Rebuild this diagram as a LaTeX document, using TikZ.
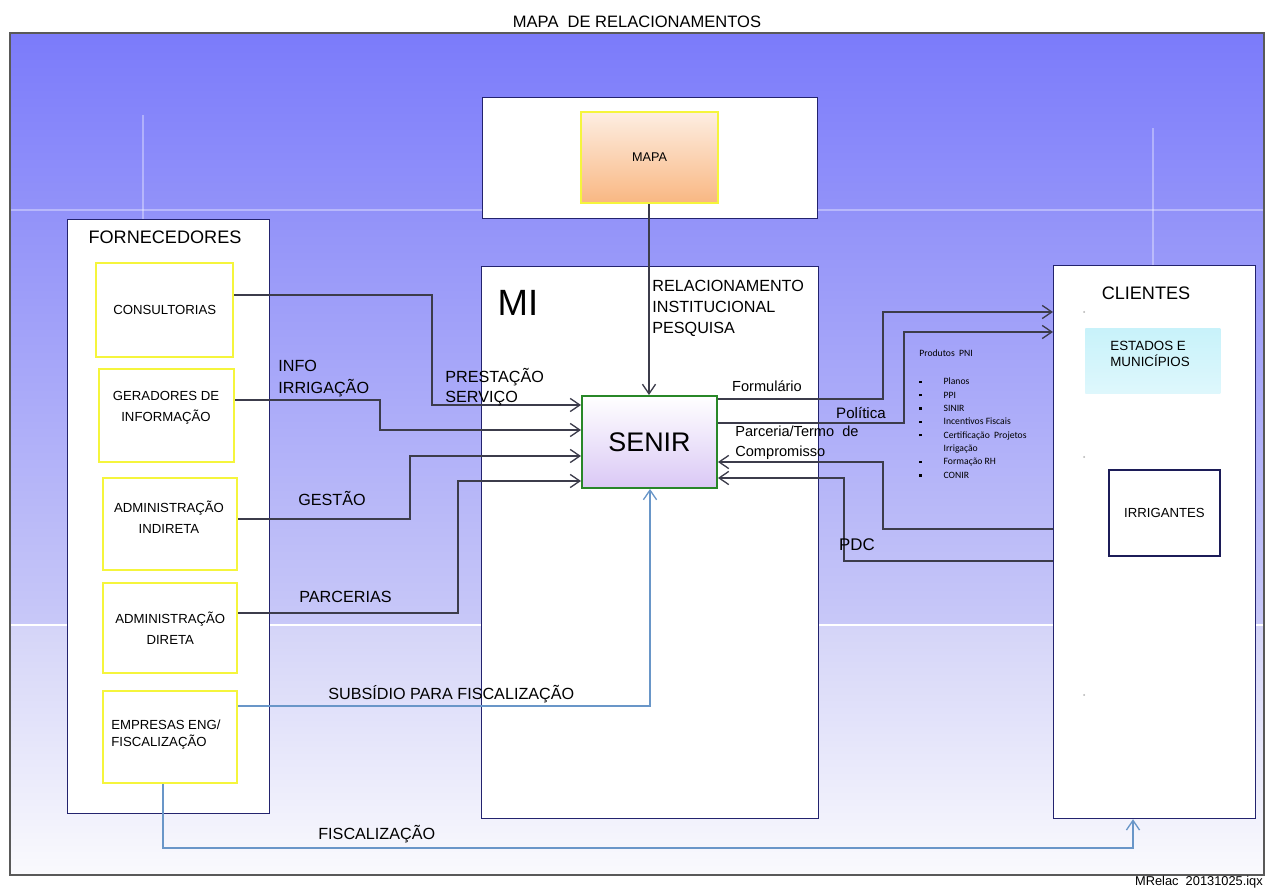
\documentclass[tikz,border=0pt]{standalone}
\usepackage{fontspec}
\setmainfont{Liberation Sans}
\newfontfamily\pnifont{Carlito}
\usepackage{tikz}
\usetikzlibrary{positioning,arrows.meta}

\definecolor{bgtop}{RGB}{123,123,250}
\definecolor{bgmid}{RGB}{200,200,248}
\definecolor{bglow}{RGB}{212,212,248}
\definecolor{bgend}{RGB}{250,250,253}
\definecolor{navy}{RGB}{35,35,110}
\definecolor{boxyellow}{RGB}{245,245,60}
\definecolor{senirgreen}{RGB}{40,135,40}
\definecolor{lavender}{RGB}{218,200,245}
\definecolor{peach}{RGB}{253,238,226}
\definecolor{mapaorange}{RGB}{249,183,130}
\definecolor{linegray}{RGB}{60,60,75}
\definecolor{lineblue}{RGB}{105,150,200}
\definecolor{cyanlight}{RGB}{200,242,250}

\newcommand{\pnibullet}{\raisebox{1pt}{\rule{1.3pt}{1.3pt}}}

\begin{document}
\begin{tikzpicture}[
        x=0.2mm, y=-0.2mm,
        grp/.style={draw=navy, fill=white, line width=0.7pt, anchor=north west, inner sep=0pt},
        ybox/.style={draw=boxyellow, fill=white, line width=1.4pt, anchor=north west, align=center, font=\fontsize{7.5}{12}\selectfont, inner sep=0pt, minimum width=26.8mm, minimum height=18.4mm},
        btxt/.style={align=center, font=\fontsize{7.5}{12}\selectfont, inner sep=0pt},
        lbl/.style={anchor=west, align=left, font=\fontsize{9.2}{12.5}\selectfont, inner sep=0pt},
        small/.style={lbl, font=\fontsize{8.3}{11.3}\selectfont},
        head/.style={font=\fontsize{10.3}{12}\selectfont, inner sep=0pt},
        arr/.style={draw=linegray, line width=0.75pt, -{Straight Barb[length=5.5pt, width=7.5pt]}},
        barr/.style={arr, draw=lineblue},
        dot/.style={circle, fill=gray!60, inner sep=0pt, minimum size=0.4mm},
    ]
        \useasboundingbox (0,0) rectangle (1274,892);
        \fill[white] (0,0) rectangle (1274,892);

        % background
        \shade[top color=bgtop, bottom color=bgmid] (10,33) rectangle (1264,625);
        \shade[top color=bglow, bottom color=bgend] (10,625) rectangle (1264,875);
        \draw[white, line width=1.5pt] (10,625) -- (1264,625);
        \draw[white, opacity=0.35, line width=0.8pt] (10,210) -- (1264,210);
        \draw[white, opacity=0.35, line width=0.8pt] (143,115) -- (143,219);
        \draw[white, opacity=0.35, line width=0.8pt] (1153,128) -- (1153,265);
        \draw[gray!70!black, line width=0.6pt] (10,33) rectangle (1264,875);

        \node[font=\fontsize{9.4}{11}\selectfont] (title) at (637,22) {MAPA\ \ DE RELACIONAMENTOS};
        \node[anchor=east, font=\fontsize{7.3}{9}\selectfont] (footer) at (1269,882) {MRelac\ \ 20131025.iqx};

        % containers
        \node[grp, minimum width=40.4mm, minimum height=118.8mm] (forn) at (67,219) {};
        \node[grp, minimum width=67.4mm, minimum height=110.4mm] (mi) at (481,266) {};
        \node[grp, minimum width=40.4mm, minimum height=110.6mm] (cli) at (1053,265) {};
        \node[grp, minimum width=67mm, minimum height=24.2mm] (mapabox) at (482,97) {};

        \node[head] (fornlbl) at (165,237) {FORNECEDORES};
        \node[head] (clilbl) at (1146,293) {CLIENTES};
        \node[font=\fontsize{20.8}{24}\selectfont, inner sep=0pt] (milbl) at (518,303) {MI};

        % fornecedores
        \node[ybox, minimum width=27.4mm, minimum height=18.8mm] (cons) at (95,262) {CONSULTORIAS};
        \node[ybox, minimum width=27mm, minimum height=18.6mm] (ger) at (98,368) {};
        \node[btxt] (gertxt) at (166,408) {GERADORES DE\\INFORMAÇÃO};
        \node[ybox] (indir) at (102,477) {};
        \node[btxt] (indirtxt) at (169,517) {ADMINISTRAÇÃO\\INDIRETA};
        \node[ybox, minimum height=18mm] (dir) at (102,582) {ADMINISTRAÇÃO\\DIRETA};
        \node[ybox] (emp) at (102,690) {};
        \node[btxt, anchor=west, align=left, font=\fontsize{7.5}{9.6}\selectfont] (emptxt) at (111,735) {EMPRESAS ENG/\\FISCALIZAÇÃO};

        % centro
        \node[ybox, line width=1.2pt, minimum width=27.4mm, minimum height=18.2mm, top color=peach, bottom color=mapaorange, font=\fontsize{7.2}{9}\selectfont] (mapa) at (580,111) {MAPA};
        \node[draw=senirgreen, line width=1.1pt, anchor=north west, minimum width=27mm, minimum height=18.4mm, top color=white, bottom color=lavender, font=\fontsize{15.3}{18}\selectfont] (senir) at (581,395) {SENIR};

        % clientes
        \node[anchor=north west, minimum width=27mm, minimum height=13mm, top color=cyanlight, bottom color=cyanlight!60!white] (estados) at (1085,328) {};
        \node[anchor=west, align=left, inner sep=0pt, font=\fontsize{7.6}{9}\selectfont] (estlbl) at (1110,354) {ESTADOS E\\MUNICÍPIOS};
        \node[draw=navy!80!black, line width=1.1pt, fill=white, anchor=north west, minimum width=22.2mm, minimum height=17.2mm, font=\fontsize{7.5}{9}\selectfont] (irrig) at (1108,469) {IRRIGANTES};
        \node[dot] (dota) at (1084,312) {};
        \node[dot] (dotb) at (1084,457) {};
        \node[dot] (dotc) at (1084,695) {};

        \node[anchor=north west, align=left, inner sep=0pt, font=\pnifont\fontsize{5.5}{7.6}\selectfont] (pni) at (919,349) {Produtos\ \ PNI\\[10pt]
            \begin{tabular}{@{}l@{\hspace{4.4mm}}l@{}}
                \pnibullet & Planos\\
                \pnibullet & PPI\\
                \pnibullet & SINIR\\
                \pnibullet & Incentivos Fiscais\\
                \pnibullet & Certificação\ \ Projetos\\
                           & Irrigação\\
                \pnibullet & Formação RH\\
                \pnibullet & CONIR
            \end{tabular}};

        % conectores
        \draw[arr] (mapa.south -| 649,0) -- (senir.north -| 649,0);
        \draw[arr] (cons.east |- 0,295) -| (432,405) -- (senir.west |- 0,405);
        \draw[arr] (ger.east |- 0,400) -| (380,430) -- (senir.west |- 0,430);
        \draw[arr] (indir.east |- 0,519) -| (410,456) -- (senir.west |- 0,456);
        \draw[arr] (dir.east |- 0,613) -| (458,481) -- (senir.west |- 0,481);
        \draw[barr] (emp.east |- 0,706) -| (senir.south -| 650,0);
        \draw[barr] (emp.south -| 163,0) |- (1133,848) -- (cli.south -| 1133,0);

        \draw[arr] (senir.east |- 0,399) -| (883,312) -- (cli.west |- 0,312);
        \draw[arr] (senir.east |- 0,423) -| (904,332) -- (cli.west |- 0,332);
        \draw[arr] (cli.west |- 0,529) -| (883,462) -- (senir.east |- 0,462);
        \draw[arr] (cli.west |- 0,561) -| (844,478) -- (senir.east |- 0,478);

        % rotulos
        \node[lbl, font=\fontsize{9.2}{12}\selectfont] (rel) at (652,308) {RELACIONAMENTO\\INSTITUCIONAL\\PESQUISA};
        \node[lbl] (info) at (278,379) {INFO\\IRRIGAÇÃO};
        \node[lbl, font=\fontsize{9.2}{11.3}\selectfont] (prest) at (445,387) {PRESTAÇÃO\\SERVIÇO};
        \node[lbl] (gestao) at (298,498) {GESTÃO};
        \node[lbl] (parc) at (299,597) {PARCERIAS};
        \node[lbl] (subs) at (328,694) {SUBSÍDIO PARA FISCALIZAÇÃO};
        \node[lbl] (fisc) at (318,834) {FISCALIZAÇÃO};
        \node[small, anchor=center] (form) at (767,386) {Formulário};
        \node[small, anchor=center, font=\fontsize{8.6}{10}\selectfont] (pol) at (861,413) {Política};
        \node[small] (termo) at (735,443) {Parceria/Termo\ \ de\\Compromisso};
        \node[lbl, anchor=center, font=\fontsize{9.6}{11}\selectfont] (pdc) at (857,545) {PDC};
    \end{tikzpicture}
\end{document}
